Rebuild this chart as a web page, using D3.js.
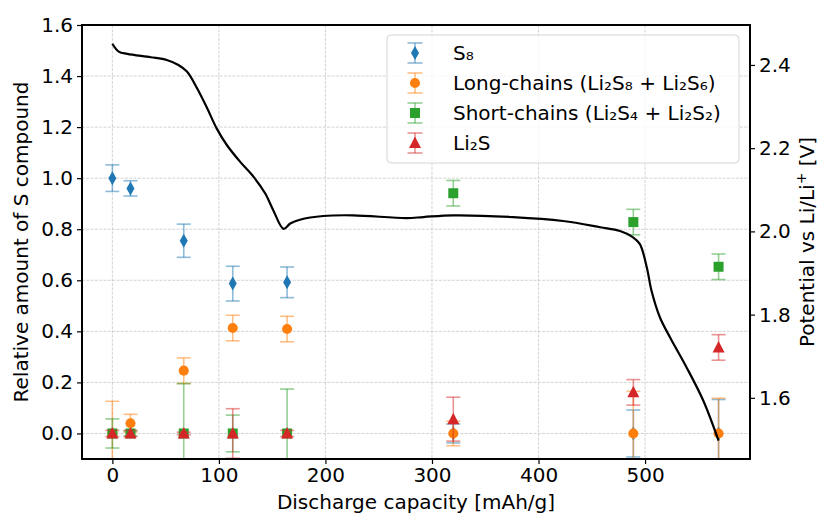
<!DOCTYPE html>
<html>
<head>
<meta charset="utf-8">
<script src="https://cdn.jsdelivr.net/npm/d3@7"></script>
<style>
  body { margin: 0; background: #fff; }
  svg { display: block; font-family: "DejaVu Sans", sans-serif; }
</style>
</head>
<body>
<div id="chart"></div>
<script>
// sampling points (discharge capacity, mAh/g)
const capacity = [0, 17, 67, 113, 164, 320, 489, 569];

// relative amounts + error
const s8       = [1.0, 0.96, 0.755, 0.587, 0.592, 0.0, 0.0, 0.0];
const s8Err    = [0.052, 0.03, 0.065, 0.068, 0.06, 0.037, 0.092, 0.133];
const longC    = [0.0, 0.04, 0.246, 0.413, 0.409, 0.0, 0.0, 0.0];
const longErr  = [0.126, 0.035, 0.05, 0.05, 0.05, 0.048, 0.165, 0.138];
const shortC   = [0.0, 0.0, 0.0, 0.0, 0.0, 0.941, 0.828, 0.653];
const shortErr = [0.057, 0.01, 0.195, 0.072, 0.174, 0.05, 0.05, 0.05];
const li2s     = [0.0, 0.0, 0.0, 0.0, 0.0, 0.056, 0.161, 0.337];
const li2sErr  = [0.012, 0.012, 0.005, 0.097, 0.012, 0.086, 0.05, 0.05];

// discharge curve (capacity, potential V)
const curveCap = [0, 6, 14, 36, 51, 62, 70, 79.5, 89, 98, 107.6, 120, 132.6, 143.5, 151, 160.7,
                  167, 176, 198, 226, 276, 292, 320, 376, 423, 458, 476.5, 488, 495, 501.6, 506,
                  514, 523.5, 539, 554.7, 569];
const curveV   = [2.451, 2.432, 2.4265, 2.4185, 2.412, 2.400, 2.384, 2.344, 2.296, 2.247, 2.207,
                  2.167, 2.131, 2.091, 2.051, 2.006, 2.019, 2.028, 2.037, 2.0386, 2.032, 2.0345,
                  2.0386, 2.0345, 2.025, 2.010, 2.001, 1.987, 1.970, 1.914, 1.858, 1.793, 1.745,
                  1.673, 1.593, 1.497];

const xTicks  = [0, 100, 200, 300, 400, 500];
const yTicks  = [0.0, 0.2, 0.4, 0.6, 0.8, 1.0, 1.2, 1.4, 1.6];
const y2Ticks = [1.6, 1.8, 2.0, 2.2, 2.4];

const series = [
  { name: 'S₈', vals: s8, err: s8Err, color: '#1f77b4', marker: 'diamond' },
  { name: 'Long-chains (Li₂S₈ + Li₂S₆)', vals: longC, err: longErr, color: '#ff7f0e', marker: 'circle' },
  { name: 'Short-chains (Li₂S₄ + Li₂S₂)', vals: shortC, err: shortErr, color: '#2ca02c', marker: 'square' },
  { name: 'Li₂S', vals: li2s, err: li2sErr, color: '#d62728', marker: 'triangle' }
];

const W = 819, H = 514;
const mLeft = 82, mRight = 750, mTop = 25, mBottom = 459;

const svg = d3.select('#chart').append('svg')
  .attr('width', W).attr('height', H);

const x  = d3.scaleLinear().domain([-28.5, 598.5]).range([mLeft, mRight]);
const y  = d3.scaleLinear().domain([-0.1, 1.6]).range([mBottom, mTop]);
const y2 = d3.scaleLinear().domain([1.453, 2.496]).range([mBottom, mTop]);

svg.append('defs').append('clipPath').attr('id', 'plot')
  .append('rect').attr('x', mLeft).attr('y', mTop)
  .attr('width', mRight - mLeft).attr('height', mBottom - mTop);

// grid
const grid = svg.append('g').attr('stroke', '#c8c8c8').attr('stroke-width', 0.8)
  .attr('stroke-dasharray', '3,1.3');
grid.selectAll('.vg').data(xTicks).join('line')
  .attr('x1', d => x(d)).attr('x2', d => x(d)).attr('y1', mTop).attr('y2', mBottom);
grid.selectAll('.hg').data(yTicks).join('line')
  .attr('x1', mLeft).attr('x2', mRight).attr('y1', d => y(d)).attr('y2', d => y(d));

// markers
function markerPath(type) {
  if (type === 'diamond') return 'M0,-7L4,0L0,7L-4,0Z';
  if (type === 'square') return 'M-5,-5H5V5H-5Z';
  if (type === 'triangle') return 'M0,-6.5L6,5H-6Z';
  return d3.symbol(d3.symbolCircle, 80)();
}

const plot = svg.append('g').attr('clip-path', 'url(#plot)');

// error bars first, then markers
series.forEach(s => {
  const g = plot.append('g').attr('stroke', s.color).attr('stroke-opacity', 0.5).attr('stroke-width', 1.6);
  capacity.forEach((c, i) => {
    const cx = x(c), y0 = y(s.vals[i] - s.err[i]), y1 = y(s.vals[i] + s.err[i]);
    g.append('line').attr('x1', cx).attr('x2', cx).attr('y1', y0).attr('y2', y1);
    g.append('line').attr('x1', cx - 7).attr('x2', cx + 7).attr('y1', y0).attr('y2', y0);
    g.append('line').attr('x1', cx - 7).attr('x2', cx + 7).attr('y1', y1).attr('y2', y1);
  });
  plot.append('g').selectAll('path').data(capacity).join('path')
    .attr('d', markerPath(s.marker))
    .attr('transform', (c, i) => `translate(${x(c)},${y(s.vals[i])})`)
    .attr('fill', s.color);
});

// potential curve
const line = d3.line().x(d => x(d[0])).y(d => y2(d[1])).curve(d3.curveCatmullRom.alpha(0.5));
plot.append('path')
  .datum(curveCap.map((c, i) => [c, curveV[i]]))
  .attr('d', line)
  .attr('fill', 'none').attr('stroke', '#000').attr('stroke-width', 2.2)
  .attr('stroke-linejoin', 'round');

// axes
const fmt = d3.format('.1f');
const axL = svg.append('g').attr('transform', `translate(${mLeft},0)`)
  .call(d3.axisLeft(y).tickValues(yTicks).tickFormat(fmt).tickSize(5).tickPadding(4));
const axR = svg.append('g').attr('transform', `translate(${mRight},0)`)
  .call(d3.axisRight(y2).tickValues(y2Ticks).tickFormat(fmt).tickSize(5).tickPadding(4));
const axB = svg.append('g').attr('transform', `translate(0,${mBottom})`)
  .call(d3.axisBottom(x).tickValues(xTicks).tickSize(5).tickPadding(4));
[axL, axR, axB].forEach(a => {
  a.select('.domain').remove();
  a.selectAll('.tick line').attr('stroke', '#000').attr('stroke-width', 1.2);
  a.selectAll('.tick text').attr('fill', '#000')
    .style('font-size', '20px').style('font-family', '"DejaVu Sans", sans-serif');
});
axB.selectAll('.tick text').attr('dy', '0.71em');

svg.append('rect').attr('x', mLeft).attr('y', mTop)
  .attr('width', mRight - mLeft).attr('height', mBottom - mTop)
  .attr('fill', 'none').attr('stroke', '#000').attr('stroke-width', 2);

// axis labels
svg.append('text').attr('x', (mLeft + mRight) / 2).attr('y', 509)
  .attr('text-anchor', 'middle').style('font-size', '20px')
  .text('Discharge capacity [mAh/g]');
svg.append('text').attr('transform', `translate(28,${(mTop + mBottom) / 2}) rotate(-90)`)
  .attr('text-anchor', 'middle').style('font-size', '20px')
  .text('Relative amount of S compound');
const rLab = svg.append('text').attr('transform', `translate(814,${(mTop + mBottom) / 2}) rotate(-90)`)
  .attr('text-anchor', 'middle').style('font-size', '20px');
rLab.append('tspan').text('Potential vs Li/Li');
rLab.append('tspan').attr('dy', -8).style('font-size', '14px').text('+');
rLab.append('tspan').attr('dy', 8).text(' [V]');

// legend
const leg = svg.append('g');
leg.append('rect').attr('x', 387).attr('y', 35).attr('width', 352).attr('height', 128)
  .attr('rx', 4).attr('fill', '#fff').attr('fill-opacity', 0.8)
  .attr('stroke', '#d6d6d6').attr('stroke-width', 1);
series.forEach((s, i) => {
  const ry = 53 + i * 30, hx = 415;
  const g = leg.append('g');
  const eb = g.append('g').attr('stroke', s.color).attr('stroke-opacity', 0.5).attr('stroke-width', 1.6);
  eb.append('line').attr('x1', hx).attr('x2', hx).attr('y1', ry - 10).attr('y2', ry + 10);
  eb.append('line').attr('x1', hx - 7.5).attr('x2', hx + 7.5).attr('y1', ry - 10).attr('y2', ry - 10);
  eb.append('line').attr('x1', hx - 7.5).attr('x2', hx + 7.5).attr('y1', ry + 10).attr('y2', ry + 10);
  g.append('path').attr('d', markerPath(s.marker))
    .attr('transform', `translate(${hx},${ry})`).attr('fill', s.color);
  g.append('text').attr('x', 453).attr('y', ry + 7).style('font-size', '20px').text(s.name);
});
</script>
</body>
</html>
